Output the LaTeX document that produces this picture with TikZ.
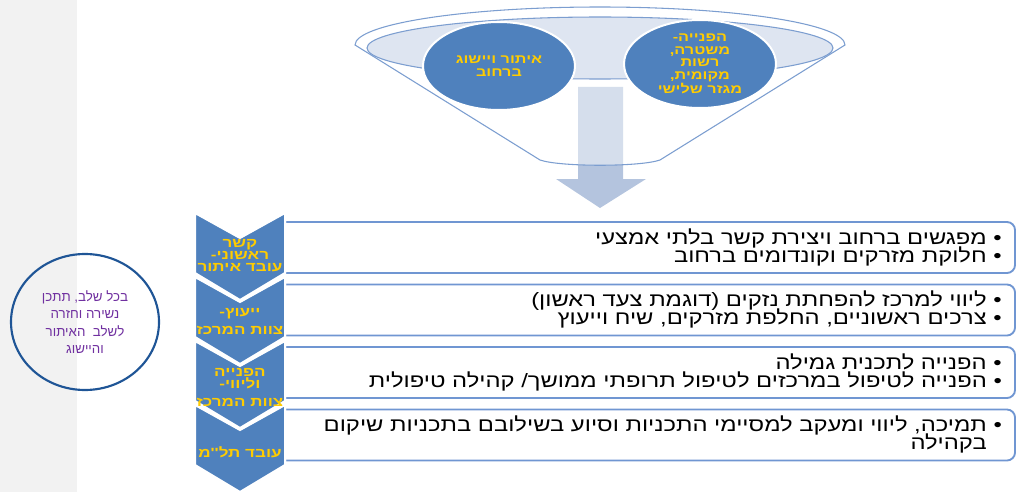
\documentclass[tikz,border=0pt]{standalone}
\usepackage{fontspec}
\usetikzlibrary{shapes.geometric}
\newfontfamily\hebfont[Script=Hebrew]{Liberation Sans}
\newfontfamily\hebwide[Script=Hebrew,FakeStretch=1.23]{Liberation Sans}
\newfontfamily\hebbold[Script=Hebrew,FakeStretch=1.28,Ligatures=TeXOff]{Liberation Sans}
\TeXXeTstate=1
\newcommand{\rl}[1]{\beginR#1\endR}
\definecolor{bandgray}{RGB}{242,242,242}
\definecolor{chevblue}{RGB}{79,129,189}
\definecolor{boxblue}{RGB}{112,150,210}
\definecolor{funnelblue}{RGB}{124,158,208}
\definecolor{rimfill}{RGB}{222,229,241}
\definecolor{arrowblue}{RGB}{180,196,222}
\definecolor{gold}{RGB}{255,204,0}
\definecolor{loopblue}{RGB}{31,85,150}
\definecolor{loopviolet}{RGB}{112,48,160}

\begin{document}
\begin{tikzpicture}[x=0.75pt,y=-0.75pt,
  chevron/.style={fill=chevblue,draw=white,line width=1.5pt},
  boxframe/.style={fill=white,draw=boxblue,line width=1.4pt},
  funnel/.style={fill=white,fill opacity=0.45,draw=funnelblue,line width=0.8pt},
  rim/.style={fill=rimfill,draw=funnelblue,line width=0.8pt},
  bubble/.style={ellipse,fill=chevblue,draw=white,line width=1.5pt,minimum width=114pt,minimum height=66pt,inner sep=0,text=gold,align=center,font=\hebbold\bfseries\fontsize{9.5}{9.4}\selectfont},
  chevtext/.style={text=gold,align=center,inner sep=0,font=\hebbold\bfseries\fontsize{10}{9}\selectfont},
  item/.style={anchor=base east,inner sep=0,font=\hebwide\fontsize{14.5}{14}\selectfont},
  loop/.style={ellipse,draw=loopblue,line width=1.6pt,minimum width=111pt,minimum height=102pt,inner sep=0,text=loopviolet,align=center,font=\hebfont\fontsize{10}{13}\selectfont}]
\useasboundingbox (0,0) rectangle (1021,492);
\fill[bandgray] (0,0) rectangle (77,492);

% big arrow under the funnel
\fill[arrowblue] (578,87) -- (623,87) -- (623,179) -- (646,179) -- (600,208) -- (556,179) -- (578,179) -- cycle;

% funnel
\draw[funnel] (355,45) arc[start angle=180,end angle=360,x radius=245,y radius=38] -- (660,160) .. controls (640,167) and (560,167) .. (540,160) -- cycle;
\draw[rim] (600,48) ellipse [x radius=233,y radius=31];
\node (street) at (499,66) [bubble] {\rl{איתור ויישוג}\\\rl{ברחוב}};
\node (refer) at (700,64) [bubble] {\rl{הפנייה-}\\\rl{משטרה,}\\\rl{רשות}\\\rl{מקומית,}\\\rl{מגזר שלישי}};

% loop back note
\node (back) at (85,322) [loop] {\rl{בכל שלב, תתכן}\\\rl{נשירה וחזרה}\\\rl{לשלב\ \ האיתור}\\\rl{והיישוג}};

% boxes
\draw[boxframe] (285,222) -- (1007,222) arc[start angle=-90,end angle=0,radius=8] -- (1015,265) arc[start angle=0,end angle=90,radius=8] -- (285,273) -- cycle;
\draw[boxframe] (285,284.5) -- (1007,284.5) arc[start angle=-90,end angle=0,radius=8] -- (1015,327.5) arc[start angle=0,end angle=90,radius=8] -- (285,335.5) -- cycle;
\draw[boxframe] (285,347) -- (1007,347) arc[start angle=-90,end angle=0,radius=8] -- (1015,390) arc[start angle=0,end angle=90,radius=8] -- (285,398) -- cycle;
\draw[boxframe] (285,409.5) -- (1007,409.5) arc[start angle=-90,end angle=0,radius=8] -- (1015,452.5) arc[start angle=0,end angle=90,radius=8] -- (285,460.5) -- cycle;

% chevrons
\fill[chevron] (195,213) -- (240,238) -- (285,213) -- (285,273) -- (240,300) -- (195,273) -- cycle;
\fill[chevron] (195,277) -- (240,302) -- (285,277) -- (285,337) -- (240,364) -- (195,337) -- cycle;
\fill[chevron] (195,341) -- (240,366) -- (285,341) -- (285,401) -- (240,428) -- (195,401) -- cycle;
\fill[chevron] (195,405) -- (240,430) -- (285,405) -- (285,465) -- (240,492) -- (195,465) -- cycle;
\draw[chevron] (195,213) -- (240,238) -- (285,213) -- (285,273) -- (240,300) -- (195,273) -- cycle;
\draw[chevron] (195,277) -- (240,302) -- (285,277) -- (285,337) -- (240,364) -- (195,337) -- cycle;
\draw[chevron] (195,341) -- (240,366) -- (285,341) -- (285,401) -- (240,428) -- (195,401) -- cycle;
\draw[chevron] (195,405) -- (240,430) -- (285,405) -- (285,465) -- (240,492) -- (195,465) -- cycle;

\node (s1) at (240,256) [chevtext] {\rl{קשר}\\\rl{ראשוני-}\\\rl{עובד איתור}};
\node (s2) at (240,321.5) [chevtext] {\rl{ייעוץ-}\\[4pt]\rl{צוות המרכז}};
\node (s3) at (240,387.5) [chevtext] {\rl{הפנייה}\\\rl{וליווי-}\\[4pt]\rl{צוות המרכז}};
\node (s4) at (240,452) [chevtext] {\rl{עובד תל''מ}};

% items
\node (i1a) at (1002,244) [item] {\rl{•\hspace{5pt}מפגשים ברחוב ויצירת קשר בלתי אמצעי}};
\node (i1b) at (1002,262) [item] {\rl{•\hspace{5pt}חלוקת מזרקים וקונדומים ברחוב}};
\node (i2a) at (1002,306.5) [item] {\rl{•\hspace{5pt}ליווי למרכז להפחתת נזקים (דוגמת צעד ראשון)}};
\node (i2b) at (1002,324.5) [item] {\rl{•\hspace{5pt}צרכים ראשוניים, החלפת מזרקים, שיח וייעוץ}};
\node (i3a) at (1002,369) [item] {\rl{•\hspace{5pt}הפנייה לתכנית גמילה}};
\node (i3b) at (1002,387) [item] {\rl{•\hspace{5pt}הפנייה לטיפול במרכזים לטיפול תרופתי ממושך/ קהילה טיפולית}};
\node (i4a) at (1002,431.5) [item] {\rl{•\hspace{5pt}תמיכה, ליווי ומעקב למסיימי התכניות וסיוע בשילובם בתכניות שיקום}};
\node (i4b) at (1002,449.5) [item] {\rl{\phantom{•}\hspace{5pt}בקהילה}};
\end{tikzpicture}
\end{document}
